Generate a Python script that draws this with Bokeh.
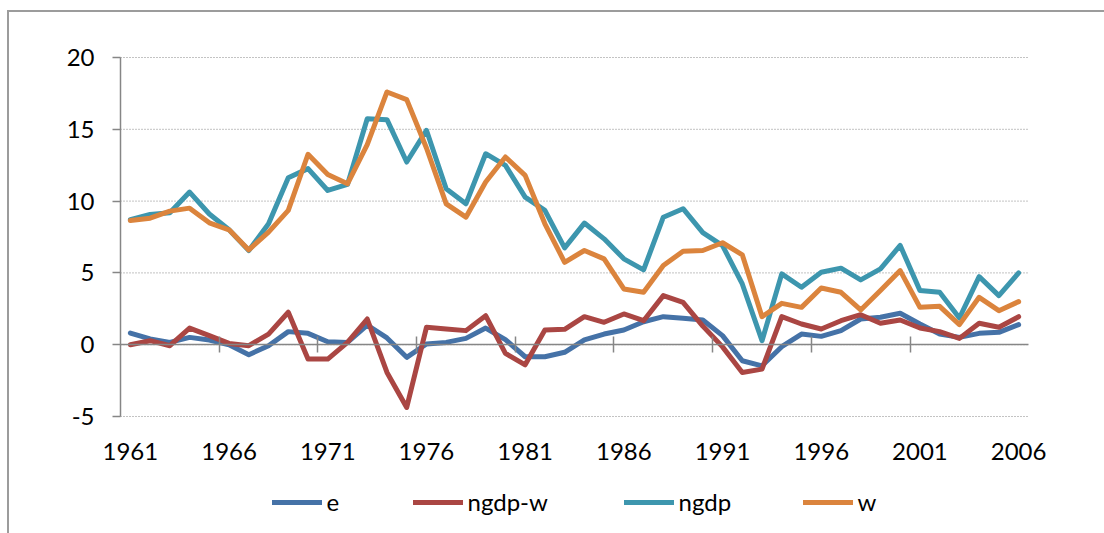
from bokeh.plotting import figure
from bokeh.models import (FixedTicker, LinearAxis, Legend, LegendItem, Range1d,
                          CustomJSTickFormatter)
from bokeh.embed import file_html
from bokeh.resources import INLINE

years = list(range(1961, 2007))

e = [0.81, 0.40, 0.16, 0.51, 0.33, 0.00, -0.70, -0.07, 0.91, 0.79,
     0.21, 0.16, 1.37, 0.47, -0.88, 0.05, 0.16, 0.44, 1.16, 0.35,
     -0.84, -0.84, -0.53, 0.33, 0.74, 1.02, 1.60, 1.95, 1.84, 1.72,
     0.63, -1.12, -1.47, -0.14, 0.74, 0.58, 0.98, 1.79, 1.91, 2.19,
     1.44, 0.74, 0.51, 0.79, 0.86, 1.40]

ngdp_w = [0.00, 0.28, -0.07, 1.16, 0.63, 0.09, -0.07, 0.74, 2.26, -1.00,
          -1.00, 0.16, 1.79, -1.93, -4.37, 1.21, 1.09, 0.98, 2.02, -0.60,
          -1.40, 1.02, 1.07, 1.95, 1.56, 2.14, 1.67, 3.42, 2.95, 1.30,
          -0.15, -1.93, -1.70, 1.95, 1.44, 1.09, 1.67, 2.09, 1.49, 1.72,
          1.16, 0.91, 0.44, 1.49, 1.21, 1.95]

ngdp = [8.70, 9.07, 9.19, 10.63, 9.10, 8.00, 6.56, 8.42, 11.63, 12.26,
        10.74, 11.16, 15.74, 15.67, 12.72, 14.93, 10.86, 9.81, 13.30, 12.49,
        10.28, 9.35, 6.74, 8.47, 7.37, 5.98, 5.21, 8.88, 9.47, 7.80,
        6.90, 4.23, 0.28, 4.93, 4.00, 5.05, 5.33, 4.51, 5.28, 6.91,
        3.77, 3.65, 1.86, 4.74, 3.42, 5.00]

w = [8.65, 8.81, 9.30, 9.51, 8.49, 8.00, 6.60, 7.84, 9.35, 13.26,
     11.86, 11.20, 13.93, 17.60, 17.07, 13.70, 9.81, 8.88, 11.33, 13.07,
     11.79, 8.42, 5.74, 6.56, 5.98, 3.88, 3.65, 5.51, 6.51, 6.56,
     7.10, 6.26, 1.95, 2.88, 2.60, 3.95, 3.65, 2.42, 3.77, 5.16,
     2.60, 2.67, 1.40, 3.30, 2.37, 3.00]

series_names = ["e", "ngdp-w", "ngdp", "w"]
series_values = [e, ngdp_w, ngdp, w]
series_colors = ["#4572A7", "#AA4643", "#3D96AE", "#DB843D"]

y_ticks = [-5, 0, 5, 10, 15, 20]
x_label_years = years[::5]
x_tick_marks = [y + 0.5 for y in years[4::5][:-1]]

FONT = "Lato"
FS = "24px"
GRAY = "#868686"

# ---- layout geometry (pixels) ----
W, H = 1104, 533
FL, FT = 64, 30                 # frame left / top (panels)
PA_L, PA_R = 120, 1028          # plot area left / right
PA_T, PA_B = 57, 416            # plot area top / bottom
x_lo, x_hi = years[0] - 0.5, years[-1] + 0.5
px_x = (PA_R - PA_L) / (x_hi - x_lo)
px_y = (PA_B - PA_T) / (y_ticks[-1] - y_ticks[0])
xr = Range1d(x_lo - (PA_L - FL) / px_x, x_hi + (W - PA_R) / px_x)
yr = Range1d(y_ticks[0] - (H - PA_B) / px_y, y_ticks[-1] + (PA_T - FT) / px_y)

p = figure(width=W, height=H, output_backend="svg", toolbar_location=None,
           x_axis_location=None, x_range=xr, y_range=yr,
           min_border_left=FL, min_border_right=0,
           min_border_top=FT, min_border_bottom=0)
p.outline_line_color = None
p.background_fill_color = None
p.border_fill_color = None
p.styles = {
    "background-color": "white",
    "background-image": "linear-gradient(#9c9c9c, #9c9c9c), linear-gradient(#9c9c9c, #9c9c9c)",
    "background-size": "2px 100%, 100% 2px",
    "background-position": "7px 10px, 7px 10px",
    "background-repeat": "no-repeat",
}

# y axis at the plot-area edge
p.yaxis.fixed_location = x_lo
p.yaxis.bounds = (y_ticks[0], y_ticks[-1])
p.yaxis.ticker = FixedTicker(ticks=y_ticks)
p.yaxis.formatter = CustomJSTickFormatter(code="return tick.toString()")
p.yaxis.axis_line_color = GRAY
p.yaxis.axis_line_width = 1.5
p.yaxis.major_tick_line_color = GRAY
p.yaxis.major_tick_line_width = 1.5
p.yaxis.major_tick_out = 8
p.yaxis.major_tick_in = 0
p.yaxis.minor_tick_line_color = None
p.yaxis.major_label_standoff = 18
p.yaxis.major_label_text_font = FONT
p.yaxis.major_label_text_font_size = FS
p.yaxis.major_label_text_color = "black"

# gridlines (dotted), limited to the plot area
p.xgrid.visible = False
p.ygrid.visible = False
n = len(y_ticks)
p.segment(x0=[x_lo] * n, y0=y_ticks, x1=[x_hi] * n, y1=y_ticks,
          line_color=GRAY, line_dash="1 2", line_width=1, level="underlay")

# category axis crossing at zero
zero_axis = LinearAxis(fixed_location=0, bounds=(x_lo, x_hi),
                       ticker=FixedTicker(ticks=x_tick_marks),
                       axis_line_color=GRAY, axis_line_width=1.5,
                       major_tick_line_color=GRAY, major_tick_line_width=1.5,
                       major_tick_in=8, major_tick_out=8,
                       minor_tick_line_color=None, major_label_standoff=0,
                       major_label_text_font_size="0px",
                       major_label_text_color=None)
p.add_layout(zero_axis, "above")

# year labels hanging below the -5 gridline
label_axis = LinearAxis(fixed_location=y_ticks[0], ticker=FixedTicker(ticks=x_label_years),
                        formatter=CustomJSTickFormatter(code="return tick.toString()"),
                        axis_line_color=None, major_tick_line_color=None,
                        minor_tick_line_color=None,
                        major_tick_in=0, major_tick_out=0,
                        major_label_standoff=-43,
                        major_label_text_font=FONT, major_label_text_font_size=FS,
                        major_label_text_color="black")
p.add_layout(label_axis, "above")

renderers = []
for name, vals, col in zip(series_names, series_values, series_colors):
    r = p.line(years, vals, line_color=col, line_width=5,
               line_join="round", line_cap="round")
    renderers.append(r)

legend_px = [271.5, 412.5, 623.5, 802.5]
for name, r, lx in zip(series_names, renderers, legend_px):
    leg = Legend(items=[LegendItem(label=name, renderers=[r])],
                 location=(lx - FL, 17), orientation="horizontal",
                 glyph_width=50, glyph_height=26, label_standoff=5,
                 padding=0, margin=0, spacing=0,
                 border_line_color=None, background_fill_alpha=0,
                 label_text_font=FONT, label_text_font_size=FS,
                 label_text_color="black", label_height=26)
    p.add_layout(leg)

open("out.html", "w").write(file_html(p, INLINE))
